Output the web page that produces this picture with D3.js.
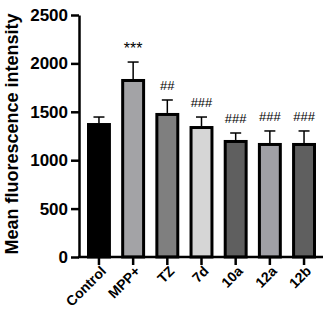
<!DOCTYPE html>
<html>
<head>
<meta charset="utf-8">
<script src="https://cdn.jsdelivr.net/npm/d3@7"></script>
<style>
  body { margin: 0; background: #fff; }
  text { font-family: "Liberation Sans", Arial, sans-serif; }
</style>
</head>
<body>
<div id="chart"></div>
<script>
const groups = ["Control", "MPP+", "TZ", "7d", "10a", "12a", "12b"];
const means = [1384, 1839, 1488, 1353, 1209, 1178, 1178];
const errors = [62, 175, 134, 93, 72, 124, 124];
const marks = ["", "***", "##", "###", "###", "###", "###"];
const fills = ["#000000", "#a3a3a6", "#7f7f7f", "#d6d6d6", "#5f5f5f", "#a0a0a6", "#5f5f5f"];
const yTicks = [0, 500, 1000, 1500, 2000, 2500];

const width = 325, height = 328;
const svg = d3.select("#chart").append("svg")
    .attr("width", width)
    .attr("height", height);

const x = d3.scaleBand()
    .domain(groups)
    .range([87, 316])
    .paddingInner(0.3)
    .paddingOuter(0);

const y = d3.scaleLinear()
    .domain([0, 2500])
    .range([257, 15]);

// bars
const bars = svg.selectAll(".bar").data(groups).enter().append("g");

bars.append("rect")
    .attr("x", d => x(d) + 1.5)
    .attr("y", (d, i) => y(means[i]) + 1.5)
    .attr("width", x.bandwidth() - 3)
    .attr("height", (d, i) => y(0) - y(means[i]) - 1.5)
    .attr("fill", (d, i) => fills[i])
    .attr("stroke", "#000")
    .attr("stroke-width", 3);

// error bars (upper only)
bars.append("line")
    .attr("x1", d => x(d) + x.bandwidth() / 2)
    .attr("x2", d => x(d) + x.bandwidth() / 2)
    .attr("y1", (d, i) => y(means[i]))
    .attr("y2", (d, i) => y(means[i] + errors[i]))
    .attr("stroke", "#000")
    .attr("stroke-width", 1.5);

bars.append("line")
    .attr("x1", d => x(d) + x.bandwidth() / 2 - 5.5)
    .attr("x2", d => x(d) + x.bandwidth() / 2 + 5.5)
    .attr("y1", (d, i) => y(means[i] + errors[i]))
    .attr("y2", (d, i) => y(means[i] + errors[i]))
    .attr("stroke", "#000")
    .attr("stroke-width", 1.5);

// significance marks
bars.append("text")
    .attr("x", d => x(d) + x.bandwidth() / 2)
    .attr("y", (d, i) => y(means[i] + errors[i]) - (marks[i] === "***" ? 8 : 10))
    .attr("text-anchor", "middle")
    .attr("font-size", (d, i) => marks[i] === "***" ? "16px" : "13px")
    .text((d, i) => marks[i]);

// y axis
const yAxis = svg.append("g")
    .attr("transform", "translate(79,0)")
    .call(d3.axisLeft(y).tickValues(yTicks).tickFormat(d3.format("d"))
        .tickSize(8).tickPadding(3).tickSizeOuter(0));
yAxis.select(".domain").attr("stroke-width", 2.5);
yAxis.selectAll(".tick line").attr("stroke-width", 2.5);
yAxis.selectAll("text")
    .attr("font-size", "17px")
    .attr("font-weight", "bold")
    .attr("fill", "#000");

// x axis, labels rotated 45 degrees
const xAxis = svg.append("g")
    .attr("transform", "translate(0,257)")
    .call(d3.axisBottom(x).tickSize(8).tickSizeOuter(0).tickFormat(""));
xAxis.select(".domain").attr("d", "M78,0H323").attr("stroke-width", 2.5);
xAxis.selectAll(".tick line").attr("stroke-width", 2.5);

svg.selectAll(".xlabel").data(groups).enter().append("text")
    .attr("class", "xlabel")
    .attr("transform", d => `translate(${x(d) + x.bandwidth() / 2 + 8},272) rotate(-45)`)
    .attr("text-anchor", "end")
    .attr("font-size", "14px")
    .attr("font-weight", "bold")
    .text(d => d);

// y axis title
svg.append("text")
    .attr("transform", "translate(18,134) rotate(-90)")
    .attr("text-anchor", "middle")
    .attr("font-size", "18px")
    .attr("font-weight", "bold")
    .text("Mean fluorescence intensity");
</script>
</body>
</html>
